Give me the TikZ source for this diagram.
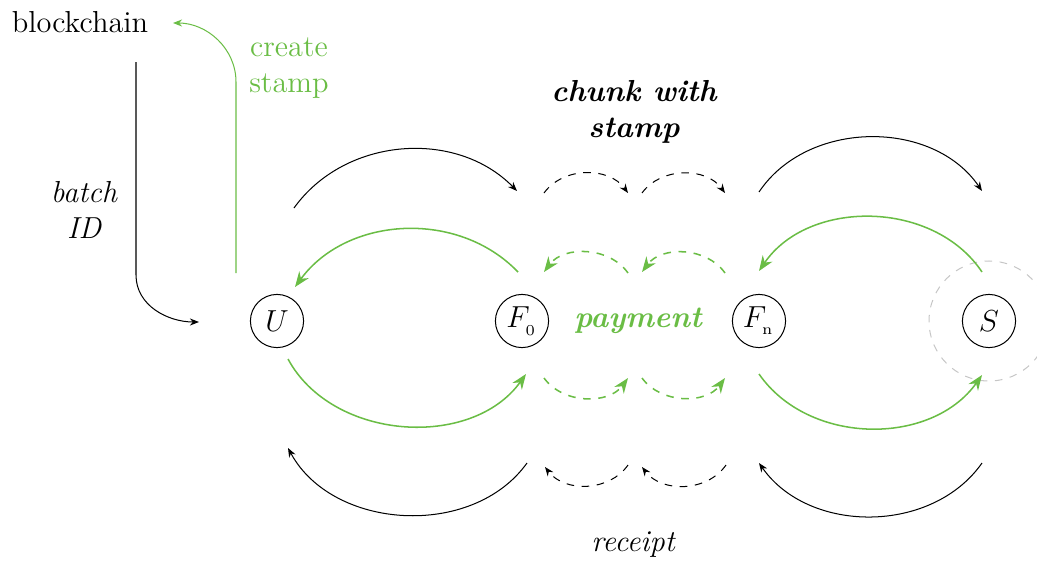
\documentclass[12pt,tikz,border=0pt]{standalone}
\usetikzlibrary{arrows.meta}
\definecolor{pgreen}{RGB}{106,189,69}
\begin{document}
\begin{tikzpicture}[x=0.395pt,y=0.395pt,
  party/.style={draw,circle,thin,minimum size=21pt,inner sep=0pt},
  blk/.style={draw=black,thin,-{Stealth[length=3.6pt,width=2.8pt]}},
  grn/.style={draw=pgreen,semithick,-{Stealth[length=6pt,width=4.6pt]}},
  grnthin/.style={draw=pgreen,thin,-{Stealth[length=3.6pt,width=2.8pt]}},
  dsh/.style={dashed},
  lbl/.style={align=center,inner sep=0pt}]
\useasboundingbox (0,0) rectangle (1037,560);
% parties
\node[party] (U) at (277,239) {$U$};
\node[party] (F0) at (522,239) {$F_{_0}$};
\node[party] (Fn) at (759,239) {$F_{_{\mathrm{n}}}$};
\node[party] (S) at (989,239) {$S$};
\draw[gray!45,thin,dashed] (S) circle[radius=60];
% labels
\node[lbl] (bc) at (80,538) {blockchain};
\node[lbl,text=pgreen] (cs) at (289,492) {create\\stamp};
\node[lbl,font=\itshape] (bid) at (84,350) {batch\\ID};
\node[lbl,font=\bfseries\itshape] (cws) at (634,448) {chunk with\\stamp};
\node[lbl,text=pgreen,font=\bfseries\itshape] (pay) at (638,239) {payment};
\node[lbl,font=\itshape] (rc) at (633,15) {receipt};
% blockchain connectors
\coordinate (bS) at (136,498);
\coordinate (bE) at (199,238);
\coordinate (gS) at (236,287);
\coordinate (gE) at (173,537);
\draw[blk] (bS) -- (136,285) to[out=-90,in=180] (bE);
\draw[grnthin] (gS) -- (236,478) to[out=90,in=0] (gE);
% top black row
\coordinate (a1s) at (294,352); \coordinate (a1e) at (517,369);
\coordinate (a2s) at (544,367); \coordinate (a2e) at (628,367);
\coordinate (a3s) at (642,367); \coordinate (a3e) at (725,367);
\coordinate (a4s) at (759,368); \coordinate (a4e) at (982,369);
\draw[blk] (a1s) to[bend left=50] (a1e);
\draw[blk,dsh] (a2s) to[bend left=54] (a2e);
\draw[blk,dsh] (a3s) to[bend left=54] (a3e);
\draw[blk] (a4s) to[bend left=56] (a4e);
% upper green row
\coordinate (g1s) at (518,288); \coordinate (g1e) at (295,273);
\coordinate (g2s) at (628,287); \coordinate (g2e) at (544,288);
\coordinate (g3s) at (725,287); \coordinate (g3e) at (642,288);
\coordinate (g4s) at (982,288); \coordinate (g4e) at (759,289);
\draw[grn] (g1s) to[bend right=50] (g1e);
\draw[grn,dsh] (g2s) to[bend right=54] (g2e);
\draw[grn,dsh] (g3s) to[bend right=54] (g3e);
\draw[grn] (g4s) to[bend right=56] (g4e);
% lower green row
\coordinate (h1s) at (288,201); \coordinate (h1e) at (526,186);
\coordinate (h2s) at (544,182); \coordinate (h2e) at (628,182);
\coordinate (h3s) at (642,182); \coordinate (h3e) at (725,182);
\coordinate (h4s) at (759,186); \coordinate (h4e) at (982,185);
\draw[grn] (h1s) to[bend right=58] (h1e);
\draw[grn,dsh] (h2s) to[bend right=54] (h2e);
\draw[grn,dsh] (h3s) to[bend right=54] (h3e);
\draw[grn] (h4s) to[bend right=55] (h4e);
% bottom black row
\coordinate (b1s) at (527,97); \coordinate (b1e) at (288,112);
\coordinate (b2s) at (628,95); \coordinate (b2e) at (545,93);
\coordinate (b3s) at (726,95); \coordinate (b3e) at (642,93);
\coordinate (b4s) at (982,97); \coordinate (b4e) at (759,97);
\draw[blk] (b1s) to[bend left=58] (b1e);
\draw[blk,dsh] (b2s) to[bend left=54] (b2e);
\draw[blk,dsh] (b3s) to[bend left=54] (b3e);
\draw[blk] (b4s) to[bend left=55] (b4e);
\end{tikzpicture}
\end{document}
